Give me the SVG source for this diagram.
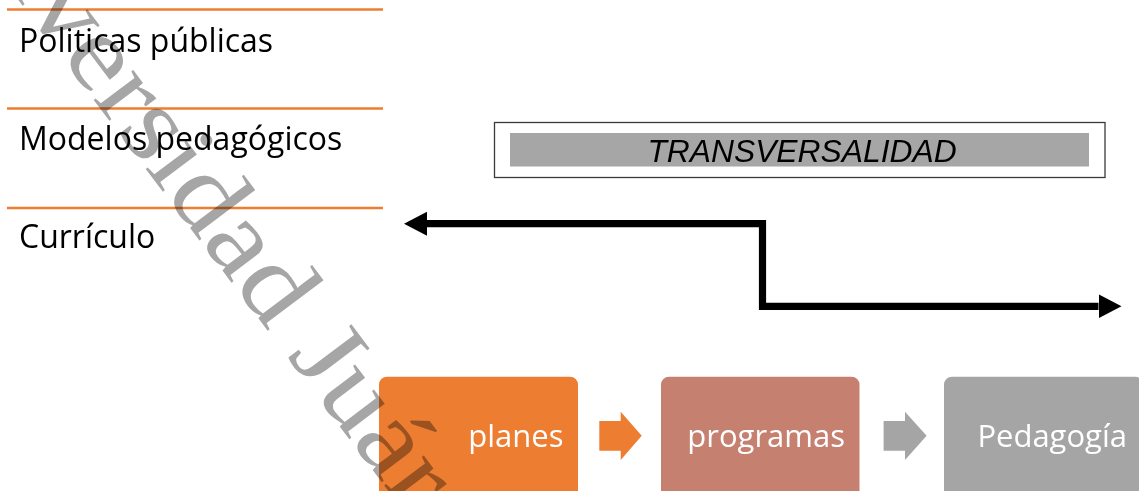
<svg xmlns="http://www.w3.org/2000/svg" width="1139" height="491" viewBox="0 0 1139 491">
<style>
.lbl{font-family:"Open Sans","Noto Sans",sans-serif;font-size:32px;fill:#000}
.sep{stroke:#ED7D31;stroke-width:2.5}
.box-t{font-family:"Open Sans","Noto Sans",sans-serif;font-size:31px;fill:#fff;text-anchor:end}
.wm{font-family:"Liberation Serif","Times New Roman",serif;font-size:108px;fill:#A6A6A6;mix-blend-mode:multiply}
</style>
<defs>
<marker id="ah" markerUnits="userSpaceOnUse" markerWidth="24" markerHeight="25" refX="0" refY="12" orient="auto-start-reverse" viewBox="0 0 24 24">
<path d="M0,0 L23,12 L0,24 z" fill="#000"/>
</marker>
</defs>
<rect width="1139" height="491" fill="#fff"/>
<g id="levels">
<line class="sep" x1="7" y1="9.5" x2="383" y2="9.5"/>
<text class="lbl" x="19" y="51.7">Politicas públicas</text>
<line class="sep" x1="7" y1="108.5" x2="383" y2="108.5"/>
<text class="lbl" x="19" y="150">Modelos pedagógicos</text>
<line class="sep" x1="7" y1="208" x2="383" y2="208"/>
<text class="lbl" x="19" y="248.3">Currículo</text>
</g>
<g id="transversalidad">
<rect x="494.5" y="122.5" width="610.5" height="55" fill="#fff" stroke="#3a3a3a" stroke-width="1.3"/>
<rect x="510" y="133" width="579" height="33.5" fill="#A6A6A6"/>
<text x="802" y="161.7" text-anchor="middle" font-family="Liberation Sans, Arial, sans-serif" font-style="italic" font-size="31.8" fill="#000">TRANSVERSALIDAD</text>
</g>
<g id="connectors">
<path d="M427,223.7 H762.5 V306.3 H1098.5" fill="none" stroke="#000" stroke-width="7.2" marker-start="url(#ah)" marker-end="url(#ah)"/>
</g>
<g id="planes">
<rect x="379" y="376.7" width="199" height="130" rx="8" fill="#ED7D31"/>
<text class="box-t" x="563.5" y="447.3">planes</text>
</g>
<g id="arrow1">
<path d="M599.3,421 H620.7 V411.7 L641.7,435.8 L620.7,460 V450.7 H599.3 z" fill="#ED7D31"/>
</g>
<g id="programas">
<rect x="661" y="376.7" width="198.5" height="130" rx="8" fill="#C58070"/>
<text class="box-t" x="845" y="447.3">programas</text>
</g>
<g id="arrow2">
<path d="M883.6,421 H905 V411.7 L926.6,435.8 L905,460 V450.7 H883.6 z" fill="#A5A5A5"/>
</g>
<g id="pedagogia">
<rect x="944" y="376.7" width="199" height="130" rx="8" fill="#A5A5A5"/>
<text class="box-t" x="1127" y="447.3">Pedagogía</text>
</g>
<g id="watermark" transform="translate(-84.1,-136) rotate(53) scale(1.11,1)">
<text class="wm" x="0" y="0">Universidad Juárez</text>
</g>
</svg>
